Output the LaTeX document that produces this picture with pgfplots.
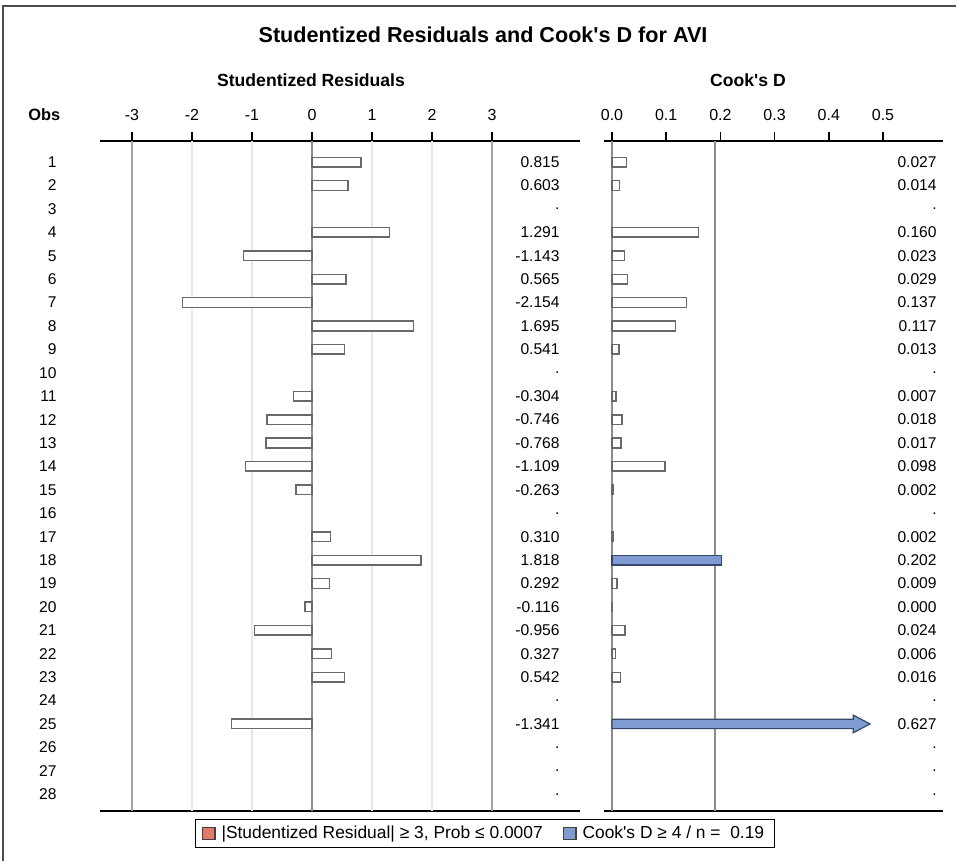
\documentclass[border=0pt]{standalone}
\usepackage{fontspec}
\setmainfont{Liberation Sans}
\usepackage{pgfplots}
\pgfplotsset{compat=1.18}
\definecolor{barline}{RGB}{105,105,105}
\definecolor{cookblue}{RGB}{127,155,207}
\definecolor{cookline}{RGB}{55,70,110}
\definecolor{resred}{RGB}{224,123,106}
\definecolor{gridlight}{RGB}{232,232,232}
\definecolor{griddark}{RGB}{165,165,165}
\definecolor{zeroline}{RGB}{140,140,140}
\newcommand\valfont{\fontsize{7.8}{9}\selectfont}
\pgfplotsset{
  panel/.style={
    scale only axis, height=335pt, y dir=reverse, ymin=0.1, ymax=28.72,
    separate axis lines,
    x axis line style={draw=black, line width=0.6pt},
    y axis line style={draw=none},
    xtick pos=top, xticklabel pos=top, tick align=outside,
    major tick length=4pt,
    xtick style={draw=none},
    ytick style={draw=none},
    xticklabel style={font=\fontsize{8}{9}\selectfont, yshift=2.5pt},
    clip=false,
  },
  wbar/.style={xbar, bar width=4.8pt, bar shift=0pt, draw=barline, line width=0.75pt, fill=white},
  bbar/.style={xbar, bar width=4.8pt, bar shift=0pt, draw=cookline, line width=0.75pt, fill=cookblue},
  vals/.style={only marks, mark=*, mark size=0pt, mark options={draw=none, fill=none},
    nodes near coords, point meta=explicit symbolic,
    nodes near coords style={anchor=east, inner sep=0pt, font=\valfont}},
}
\begin{document}
\begin{tikzpicture}
\path[use as bounding box] (0,0) rectangle (478pt,-430.5pt);
\draw[black!70, line width=0.6pt] (1.5pt,-430.5pt) -- (1.5pt,-3pt) -- (478pt,-3pt);
\node[font=\bfseries\fontsize{10.8}{12}\selectfont] at (241.5pt,-17.5pt) {Studentized Residuals and Cook\textquotesingle s D for AVI};
\node[font=\bfseries\fontsize{8.8}{10}\selectfont] at (155.5pt,-40pt) {Studentized Residuals};
\node[font=\bfseries\fontsize{8.8}{10}\selectfont] at (374pt,-40pt) {Cook\textquotesingle s D};
\node[font=\bfseries\fontsize{8.2}{10}\selectfont, anchor=west, inner sep=0pt] at (14pt,-57.5pt) {Obs};

% ---------------- Left panel: studentized residuals ----------------
\begin{axis}[panel, at={(50pt,-70.5pt)}, anchor=north west, width=240pt,
  xmin=-3.533, xmax=4.467,
  xtick={-3,-2,-1,0,1,2,3}, xticklabels={-3,-2,-1,0,1,2,3},
  ytick={1,2,...,28},
  yticklabels={1,2,3,4,5,6,7,8,9,10,11,12,13,14,15,16,17,18,19,20,21,22,23,24,25,26,27,28},
  yticklabel style={anchor=east, inner sep=0pt, xshift=-17.5pt, font=\valfont},
  legend columns=2,
  legend image code/.code={\draw[#1] (0pt,-3pt) rectangle (6.3pt,3pt);},
  legend style={at={(0.802,-0.0336)}, anchor=center, draw=black, line width=0.6pt,
    font=\fontsize{8.7}{10}\selectfont, inner xsep=3pt, inner ysep=1.2pt,
    /tikz/every even column/.append style={column sep=8pt},
    /tikz/every odd column/.append style={column sep=1pt}},
]
\addlegendimage{fill=resred, draw=black!75, line width=0.6pt}
\addlegendentry{|Studentized Residual| ≥ 3, Prob ≤ 0.0007}
\addlegendimage{fill=cookblue, draw=black!75, line width=0.6pt}
\addlegendentry{Cook\textquotesingle s D ≥ 4 / n =\ \ 0.19}
% reference lines
\addplot[gridlight, line width=0.6pt] coordinates {(-2,0.1) (-2,28.72)};
\addplot[gridlight, line width=0.6pt] coordinates {(-1,0.1) (-1,28.72)};
\addplot[gridlight, line width=0.6pt] coordinates {(1,0.1) (1,28.72)};
\addplot[gridlight, line width=0.6pt] coordinates {(2,0.1) (2,28.72)};
\addplot[griddark, line width=0.8pt] coordinates {(-3,0.1) (-3,28.72)};
\addplot[griddark, line width=0.8pt] coordinates {(3,0.1) (3,28.72)};
\addplot[zeroline, line width=0.6pt] coordinates {(0,0.1) (0,28.72)};
% bars
\addplot[wbar] coordinates {
(0.815,1) (0.603,2) (1.291,4) (-1.143,5) (0.565,6) (-2.154,7) (1.695,8) (0.541,9)
(-0.304,11) (-0.746,12) (-0.768,13) (-1.109,14) (-0.263,15)
(0.310,17) (1.818,18) (0.292,19) (-0.116,20) (-0.956,21) (0.327,22) (0.542,23)
(-1.341,25)};
% values column
\addplot[vals] coordinates {
(4.133,1)[0.815] (4.133,2)[0.603] (4.133,3)[.] (4.133,4)[1.291] (4.133,5)[-1.143]
(4.133,6)[0.565] (4.133,7)[-2.154] (4.133,8)[1.695] (4.133,9)[0.541] (4.133,10)[.]
(4.133,11)[-0.304] (4.133,12)[-0.746] (4.133,13)[-0.768] (4.133,14)[-1.109] (4.133,15)[-0.263]
(4.133,16)[.] (4.133,17)[0.310] (4.133,18)[1.818] (4.133,19)[0.292] (4.133,20)[-0.116]
(4.133,21)[-0.956] (4.133,22)[0.327] (4.133,23)[0.542] (4.133,24)[.] (4.133,25)[-1.341]
(4.133,26)[.] (4.133,27)[.] (4.133,28)[.]};
\end{axis}

% ---------------- Right panel: Cook's D ----------------
\begin{axis}[panel, at={(302pt,-70.5pt)}, anchor=north west, width=169.5pt,
  xmin=-0.01476, xmax=0.6107,
  xtick={0,0.1,0.2,0.3,0.4,0.5}, xticklabels={0.0,0.1,0.2,0.3,0.4,0.5},
  ytick=\empty,
]
\addplot[zeroline, line width=0.6pt] coordinates {(0,0.1) (0,28.72)};
\addplot[zeroline, line width=0.6pt] coordinates {(0.19,0.1) (0.19,28.72)};
\addplot[wbar] coordinates {
(0.027,1) (0.014,2) (0.160,4) (0.023,5) (0.029,6) (0.137,7) (0.117,8) (0.013,9)
(0.007,11) (0.018,12) (0.017,13) (0.098,14) (0.002,15)
(0.002,17) (0.009,19) (0.000,20) (0.024,21) (0.006,22) (0.016,23)};
\addplot[bbar] coordinates {(0.202,18)};
% clipped bar for obs 25 (0.627) drawn as an arrow
\addplot[draw=cookline, fill=cookblue, line width=0.6pt] coordinates {
(0,24.8) (0.445,24.8) (0.445,24.62) (0.476,25) (0.445,25.38) (0.445,25.2) (0,25.2) (0,24.8)};
\addplot[vals] coordinates {
(0.5996,1)[0.027] (0.5996,2)[0.014] (0.5996,3)[.] (0.5996,4)[0.160] (0.5996,5)[0.023]
(0.5996,6)[0.029] (0.5996,7)[0.137] (0.5996,8)[0.117] (0.5996,9)[0.013] (0.5996,10)[.]
(0.5996,11)[0.007] (0.5996,12)[0.018] (0.5996,13)[0.017] (0.5996,14)[0.098] (0.5996,15)[0.002]
(0.5996,16)[.] (0.5996,17)[0.002] (0.5996,18)[0.202] (0.5996,19)[0.009] (0.5996,20)[0.000]
(0.5996,21)[0.024] (0.5996,22)[0.006] (0.5996,23)[0.016] (0.5996,24)[.] (0.5996,25)[0.627]
(0.5996,26)[.] (0.5996,27)[.] (0.5996,28)[.]};
\end{axis}
% tick marks above the top axis lines (axis decoration)
\foreach \xx in {66,96,126,156,186,216,246,306,333.1,360.2,387.3,414.4,441.5} {
  \draw[black, line width=0.8pt] (\xx pt,-70.6pt) -- (\xx pt,-66.2pt);
}
\end{tikzpicture}
\end{document}
